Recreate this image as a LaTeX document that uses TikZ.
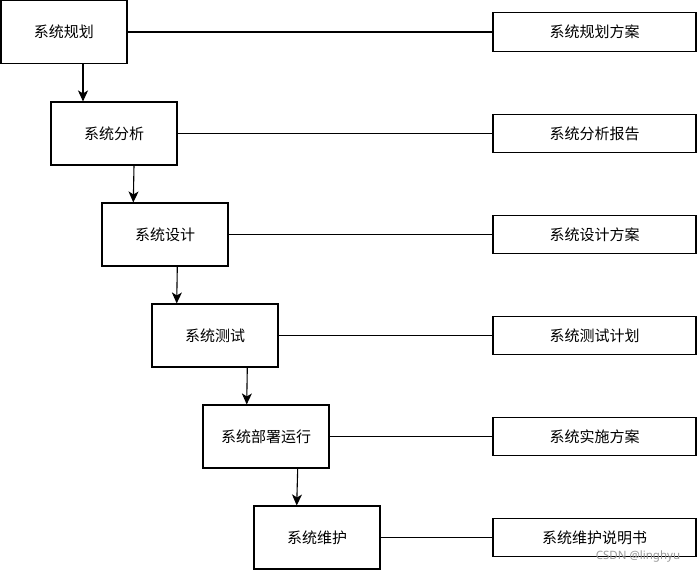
\documentclass[tikz,border=0pt]{standalone}
\usepackage{fontspec}
\setmainfont{Noto Sans CJK SC}
\newfontfamily\wmfont{Noto Sans}
\usetikzlibrary{arrows.meta}
\begin{document}
\begin{tikzpicture}[x=1pt,y=-1pt,
  stagebox/.style={draw, line width=1.1pt, minimum width=126pt, minimum height=63pt, inner sep=0pt, font=\fontsize{15pt}{16pt}\selectfont},
  docbox/.style={draw, line width=1.1pt, minimum width=203pt, minimum height=38.5pt, inner sep=0pt, font=\fontsize{15pt}{16pt}\selectfont},
  flow/.style={line width=1.1pt, -{Stealth[length=11pt,width=10pt,inset=3pt]}},
  link/.style={line width=1.1pt}]
\useasboundingbox (0,0) rectangle (697,570);
\node[stagebox] (s1) at (64,32) {系统规划};
\node[stagebox] (s2) at (114,133.5) {系统分析};
\node[stagebox] (s3) at (165,234.5) {系统设计};
\node[stagebox] (s4) at (215,335.5) {系统测试};
\node[stagebox] (s5) at (266,436.5) {系统部署运行};
\node[stagebox] (s6) at (317,537.5) {系统维护};
\node[docbox] (d1) at (594.5,32) {系统规划方案};
\node[docbox] (d2) at (594.5,133.5) {系统分析报告};
\node[docbox] (d3) at (594.5,234.5) {系统设计方案};
\node[docbox] (d4) at (594.5,335.5) {系统测试计划};
\node[docbox] (d5) at (594.5,436.5) {系统实施方案};
\node[docbox] (d6) at (594.5,537.5) {系统维护说明书};
\foreach \i in {1,...,6} {\draw[link] (s\i.east) -- (d\i.west);}
\draw[flow] ([xshift=19pt]s1.south) -- ([xshift=-31pt]s2.north);
\draw[flow] ([xshift=20pt]s2.south) -- ([xshift=-31.7pt]s3.north);
\draw[flow] ([xshift=12.3pt]s3.south) -- ([xshift=-38.3pt]s4.north);
\draw[flow] ([xshift=32.3pt]s4.south) -- ([xshift=-19.3pt]s5.north);
\draw[flow] ([xshift=31.7pt]s5.south) -- ([xshift=-20.3pt]s6.north);
\node[anchor=base, text=black!40, font=\wmfont\fontsize{11.5pt}{12pt}\selectfont, inner sep=0pt] (wm) at (638,559) {CSDN @linghyu};
\end{tikzpicture}
\end{document}
